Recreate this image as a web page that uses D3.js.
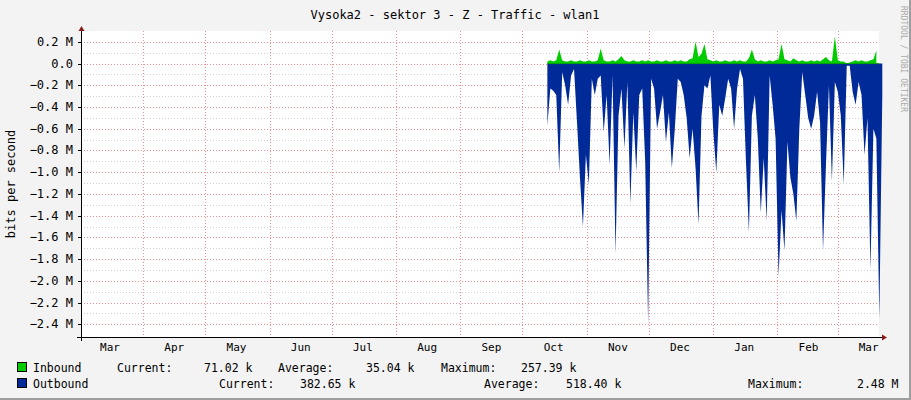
<!DOCTYPE html>
<html><head><meta charset="utf-8">
<script src="https://cdn.jsdelivr.net/npm/d3@7"></script>
<style>body{margin:0;background:#f3f3f3}text{font-family:"DejaVu Sans Mono",monospace}</style>
</head><body><div id="chart"></div>
<script>
// samples start 2023-10-13, every ~1.43 days; values in Mbit/s
const sampleStart = new Date(2023, 9, 13);
const sampleStepDays = 1.43;
const outbound = [0.57,0.23,0.25,0.29,1.0,0.08,0.2,0.38,0.11,0.05,0.54,1.05,1.5,0.84,1.11,0.14,0.29,0.14,0.11,0.63,
  0.29,0.93,0.11,1.75,0.48,0.23,0.78,0.17,1.29,0.45,0.99,0.29,0.23,0.9,2.4,0.14,0.23,0.6,0.45,0.29,
  0.72,0.45,0.96,0.6,0.14,0.17,0.29,0.5,0.87,0.6,0.96,1.48,0.48,0.2,0.23,0.11,0.63,1.0,0.38,0.48,
  0.32,0.14,0.23,0.6,0.23,0.05,0.14,0.9,1.55,0.48,0.29,0.69,1.37,0.87,1.45,0.11,0.38,0.69,1.96,1.35,
  1.72,0.72,1.05,1.2,1.45,0.6,0.08,0.29,0.5,0.6,0.48,0.26,0.54,1.72,0.93,0.2,1.08,0.17,0.26,0.48,
  1.11,0.02,0.02,0.26,0.38,0.17,0.29,0.84,0.5,1.9,0.6,0.69,2.35,0.29];
const inbound = [0.02,0.03,0.02,0.03,0.13,0.03,0.02,0.02,0.03,0.02,0.02,0.03,0.02,0.02,0.03,0.02,0.02,0.03,0.14,0.03,
  0.02,0.02,0.03,0.02,0.04,0.07,0.03,0.02,0.02,0.03,0.02,0.02,0.03,0.02,0.03,0.02,0.02,0.03,0.02,0.02,
  0.03,0.02,0.02,0.03,0.02,0.03,0.02,0.02,0.04,0.05,0.2,0.06,0.09,0.18,0.04,0.03,0.02,0.03,0.02,0.02,
  0.03,0.02,0.02,0.03,0.02,0.03,0.02,0.02,0.05,0.13,0.04,0.02,0.03,0.02,0.02,0.03,0.02,0.03,0.04,0.18,
  0.04,0.03,0.02,0.05,0.03,0.02,0.03,0.02,0.02,0.03,0.02,0.03,0.02,0.04,0.06,0.03,0.02,0.25,0.03,0.02,
  0.02,0.0,0.01,0.02,0.03,0.02,0.03,0.02,0.02,0.03,0.04,0.12];
const yTicks = [0.2,0,-0.2,-0.4,-0.6,-0.8,-1.0,-1.2,-1.4,-1.6,-1.8,-2.0,-2.2,-2.4];
const monthNames = ["Mar","Apr","May","Jun","Jul","Aug","Sep","Oct","Nov","Dec","Jan","Feb","Mar"];

const W = 911, H = 400, L = 81, R = 879, T = 31, B = 337;
const svg = d3.select("#chart").append("svg").attr("width", W).attr("height", H);
svg.append("rect").attr("width", W).attr("height", H).attr("fill", "#f3f3f3");
svg.append("rect").attr("x", W-2).attr("width", 2).attr("height", H).attr("fill", "#9e9e9e");
svg.append("rect").attr("y", H-2).attr("width", W).attr("height", 2).attr("fill", "#9e9e9e");
svg.append("rect").attr("x", L).attr("y", T).attr("width", R-L).attr("height", B-T).attr("fill", "#fff");

const x = d3.scaleTime().domain([new Date(2023, 2, 2), new Date(2024, 2, 21)]).range([L, R]);
const y = d3.scaleLinear().domain([-2.48, 0.3]).range([B - 4, T]);

// horizontal grid
const minor = d3.range(-24, 3).map(d => d / 10);
svg.selectAll(".hg").data(minor).join("line")
  .attr("x1", L).attr("x2", R).attr("y1", d => Math.round(y(d)) + .5).attr("y2", d => Math.round(y(d)) + .5)
  .attr("stroke", d => (Math.round(d * 10) % 2 === 0) ? "#f09090" : "#d0d0d0")
  .attr("stroke-dasharray", "1,2");
// vertical grid at month starts
const months = d3.timeMonth.range(new Date(2023, 3, 1), new Date(2024, 2, 2));
svg.selectAll(".vg").data(months).join("line")
  .attr("x1", d => Math.round(x(d)) + .5).attr("x2", d => Math.round(x(d)) + .5).attr("y1", T).attr("y2", B)
  .attr("stroke", "#f09090").attr("stroke-dasharray", "1,2");

const times = outbound.map((_, i) => new Date(+sampleStart + i * sampleStepDays * 864e5));
svg.append("path").datum(outbound)
  .attr("d", d3.area().x((d, i) => x(times[i])).y0(y(0)).y1(d => y(-d)))
  .attr("fill", "#002a97");
svg.append("path").datum(inbound)
  .attr("d", d3.area().x((d, i) => x(times[i])).y0(y(0)).y1(d => y(d)))
  .attr("fill", "#00cc00");
svg.append("line").attr("x1", x(times[0])).attr("x2", R).attr("y1", y(0)).attr("y2", y(0)).attr("stroke", "#00a000");

// axes
svg.append("line").attr("x1", L - 4).attr("x2", R + 5).attr("y1", B + .5).attr("y2", B + .5).attr("stroke", "#000");
svg.append("path").attr("d", `M${R+3},${B-2.5}L${R+8},${B+.5}L${R+3},${B+3.5}Z`).attr("fill", "#8b1a1a");
svg.append("line").attr("x1", L + .5).attr("x2", L + .5).attr("y1", B + 4).attr("y2", T - 2).attr("stroke", "#000");
svg.append("path").attr("d", `M${L-2.5},${T}L${L+.5},${T-5}L${L+3.5},${T}Z`).attr("fill", "#8b1a1a");
svg.selectAll(".yt").data(yTicks).join("text")
  .attr("x", 73).attr("y", d => y(d) + 4).attr("text-anchor", "end").attr("font-size", 12).attr("fill", "#000")
  .text(d => d === 0 ? "0.0" : d3.format(".1f")(d) + " M");
svg.selectAll(".yk").data(yTicks).join("line")
  .attr("x1", L - 3).attr("x2", L).attr("y1", d => Math.round(y(d)) + .5).attr("y2", d => Math.round(y(d)) + .5).attr("stroke", "#000");
const labelDates = d3.timeMonth.range(new Date(2023, 2, 1), new Date(2024, 2, 2));
svg.selectAll(".xt").data(labelDates).join("text")
  .attr("x", d => Math.max(x(d3.timeDay.offset(d, 15)), 106)).attr("y", 351).attr("text-anchor", "middle")
  .attr("font-size", 11).text((d, i) => monthNames[i]);

svg.append("text").attr("x", 455).attr("y", 19).attr("text-anchor", "middle").attr("font-size", 12).text("Vysoka2 - sektor 3 - Z - Traffic - wlan1");
svg.append("text").attr("transform", "translate(15,184) rotate(-90)").attr("text-anchor", "middle").attr("font-size", 12).text("bits per second");
svg.append("text").attr("transform", "translate(901,6) rotate(90)").attr("font-size", 8).attr("fill", "#aaa").text("RRDTOOL / TOBI OETIKER");

// legend
const legend = [
  {name: "Inbound", color: "#00cc00", y: 372, items: [[117, "Current:"], [204, "71.02 k"], [278, "Average:"], [366, "35.04 k"], [441, "Maximum:"], [521, "257.39 k"]]},
  {name: "Outbound", color: "#002a97", y: 388, items: [[219, "Current:"], [300, "382.65 k"], [484, "Average:"], [566, "518.40 k"], [748, "Maximum:"], [857, "2.48 M"]]}
];
legend.forEach(l => {
  svg.append("rect").attr("x", 17.5).attr("y", l.y - 9.5).attr("width", 9).attr("height", 9).attr("fill", l.color).attr("stroke", "#000");
  svg.append("text").attr("x", 33).attr("y", l.y).attr("font-size", 11.5).text(l.name);
  l.items.forEach(([px, t]) => {
    svg.append("text").attr("x", px).attr("y", l.y).attr("font-size", 11.5).text(t);
  });
});
</script></body></html>
